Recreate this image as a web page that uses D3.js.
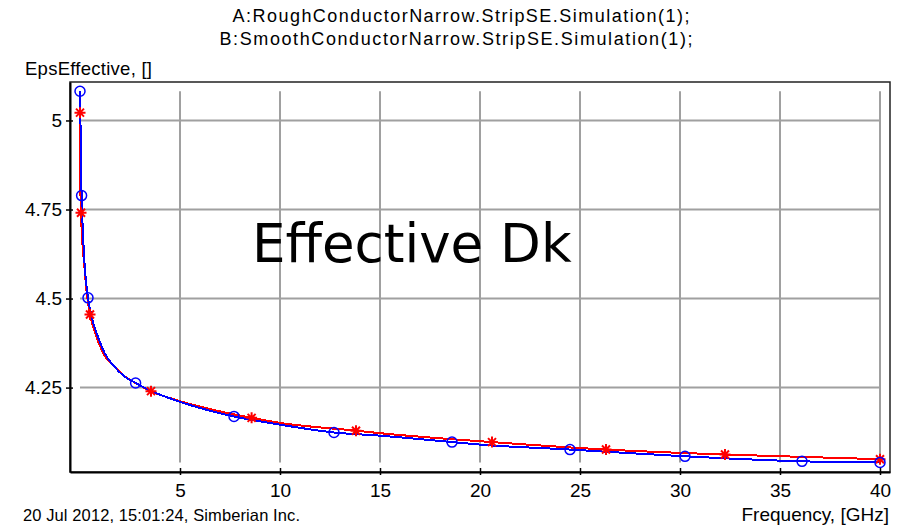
<!DOCTYPE html>
<html>
<head>
<meta charset="utf-8">
<script src="https://cdn.jsdelivr.net/npm/d3@7"></script>
<style>
body { margin: 0; background: #fff; }
text { font-family: "Liberation Sans", Arial, sans-serif; fill: #000; }
</style>
</head>
<body>
<svg width="898" height="527"></svg>
<script>
// A: rough conductor (red, stars)
let freqA = [0, 0.02, 0.05, 0.13, 0.22, 0.3, 0.5, 0.75, 1.25, 1.7, 2.2, 2.8, 3.55, 5, 6.7, 8.58, 10, 13.8, 15, 20.6, 26.3, 32.25, 40]
let epsA  = [5.022, 4.81, 4.741, 4.647, 4.591, 4.535, 4.455, 4.405, 4.338, 4.31, 4.283, 4.262, 4.24, 4.212, 4.187, 4.165, 4.151, 4.129, 4.122, 4.097, 4.076, 4.062, 4.049]
let markA = [0, 0.05, 0.5, 3.55, 8.58, 13.8, 20.6, 26.3, 32.25, 40]

// B: smooth conductor (blue, circles)
let freqB = [0, 0.08, 0.15, 0.25, 0.4, 0.6, 0.85, 1.25, 1.7, 2.2, 2.78, 3.5, 5, 6.7, 7.7, 10, 12.7, 15, 18.6, 20, 24.5, 30.25, 36.1, 40]
let epsB  = [5.082, 4.789, 4.68, 4.58, 4.502, 4.445, 4.4, 4.345, 4.31, 4.282, 4.263, 4.242, 4.21, 4.182, 4.169, 4.146, 4.124, 4.115, 4.097, 4.09, 4.076, 4.057, 4.043, 4.04]
let markB = [0, 0.08, 0.4, 2.78, 7.7, 12.7, 18.6, 24.5, 30.25, 36.1, 40]

let xTicks = [5, 10, 15, 20, 25, 30, 35, 40]
let yTicks = [4.25, 4.5, 4.75, 5]
let titles = ["A:RoughConductorNarrow.StripSE.Simulation(1);", "B:SmoothConductorNarrow.StripSE.Simulation(1);"]
let titleWidths = [457, 473]

let svg = d3.select("svg")

let x = d3.scaleLinear().domain([-0.5, 40.5]).range([70, 890])
let y = d3.scaleLinear().domain([4.013, 5.108]).range([472, 82])

let seriesA = freqA.map((f, i) => ({f: f, v: epsA[i]}))
let seriesB = freqB.map((f, i) => ({f: f, v: epsB[i]}))

let fExt = d3.extent(freqA.concat(freqB))
let vExt = d3.extent(epsA.concat(epsB))

// titles
svg.selectAll(".title")
  .data(titles)
  .enter().append("text")
    .attr("class", "title")
    .attr("x", (d, i) => i ? 456 : 461)
    .attr("y", (d, i) => 22 + i * 23)
    .attr("text-anchor", "middle")
    .attr("textLength", (d, i) => titleWidths[i])
    .attr("lengthAdjust", "spacing")
    .style("font-size", "18px")
    .text(d => d)

svg.append("text")
    .attr("x", 25).attr("y", 75)
    .attr("textLength", 127)
    .style("font-size", "18.5px")
    .text("EpsEffective, []")

// grid
let grid = svg.append("g").attr("stroke", "#a0a0a0").attr("stroke-width", 2)
grid.selectAll(".vg")
  .data(xTicks)
  .enter().append("line")
    .attr("x1", d => x(d)).attr("x2", d => x(d))
    .attr("y1", y(vExt[1])).attr("y2", y(vExt[0]))
grid.selectAll(".hg")
  .data(yTicks)
  .enter().append("line")
    .attr("x1", x(fExt[0])).attr("x2", x(fExt[1]))
    .attr("y1", d => y(d)).attr("y2", d => y(d))

// frame
svg.append("rect")
    .attr("x", 70).attr("y", 82)
    .attr("width", 820).attr("height", 390)
    .attr("fill", "none").attr("stroke", "#222").attr("stroke-width", 1.5)

// axes
let xAxis = svg.append("g")
    .attr("transform", "translate(0,472)")
    .call(d3.axisBottom(x).tickValues(xTicks).tickSizeInner(3).tickSizeOuter(0).tickPadding(9).tickFormat(d3.format("d")))
xAxis.select(".domain").attr("stroke-width", 2)
xAxis.selectAll(".tick line").attr("y1", -4).attr("stroke-width", 1.5)
xAxis.selectAll("text").style("font-size", "19px").style("font-family", "Liberation Sans, Arial, sans-serif")

let yAxis = svg.append("g")
    .attr("transform", "translate(70,0)")
    .call(d3.axisLeft(y).tickValues(yTicks).tickSizeInner(4).tickSizeOuter(0).tickPadding(4).tickFormat(d => String(d)))
yAxis.select(".domain").attr("stroke-width", 2)
yAxis.selectAll(".tick line").attr("x1", 3).attr("stroke-width", 1.5)
yAxis.selectAll("text").style("font-size", "19px").style("font-family", "Liberation Sans, Arial, sans-serif")

svg.append("text")
    .attr("x", 889).attr("y", 521)
    .attr("text-anchor", "end")
    .style("font-size", "19px")
    .text("Frequency, [GHz]")

svg.append("text")
    .attr("x", 23).attr("y", 521)
    .attr("textLength", 277)
    .style("font-size", "16.5px")
    .text("20 Jul 2012, 15:01:24, Simberian Inc.")

svg.append("text")
    .attr("x", 252).attr("y", 262)
    .style("font-family", "DejaVu Sans, Verdana, sans-serif")
    .style("font-size", "53px")
    .text("Effective Dk")

// curves
let line = d3.line().x(d => x(d.f)).y(d => y(d.v)).curve(d3.curveMonotoneX)

svg.append("path")
    .datum(seriesA)
    .attr("d", line)
    .attr("fill", "none").attr("stroke", "#ff0000").attr("stroke-width", 2)
    .attr("shape-rendering", "crispEdges")

svg.append("path")
    .datum(seriesB)
    .attr("d", line)
    .attr("fill", "none").attr("stroke", "#0000ff").attr("stroke-width", 2)
    .attr("shape-rendering", "crispEdges")

// markers
let star = "M-5.5,0H5.5M0,-5.5V5.5M-4,-4L4,4M-4,4L4,-4"
svg.selectAll(".star")
  .data(seriesA.filter(d => markA.includes(d.f)))
  .enter().append("path")
    .attr("class", "star")
    .attr("transform", d => "translate(" + x(d.f) + "," + y(d.v) + ")")
    .attr("d", star)
    .attr("stroke", "#ff0000").attr("stroke-width", 2).attr("fill", "none")

svg.selectAll(".circ")
  .data(seriesB.filter(d => markB.includes(d.f)))
  .enter().append("circle")
    .attr("class", "circ")
    .attr("cx", d => x(d.f)).attr("cy", d => y(d.v))
    .attr("r", 5)
    .attr("fill", "none").attr("stroke", "#0000ff").attr("stroke-width", 1.5)
</script>
</body>
</html>
